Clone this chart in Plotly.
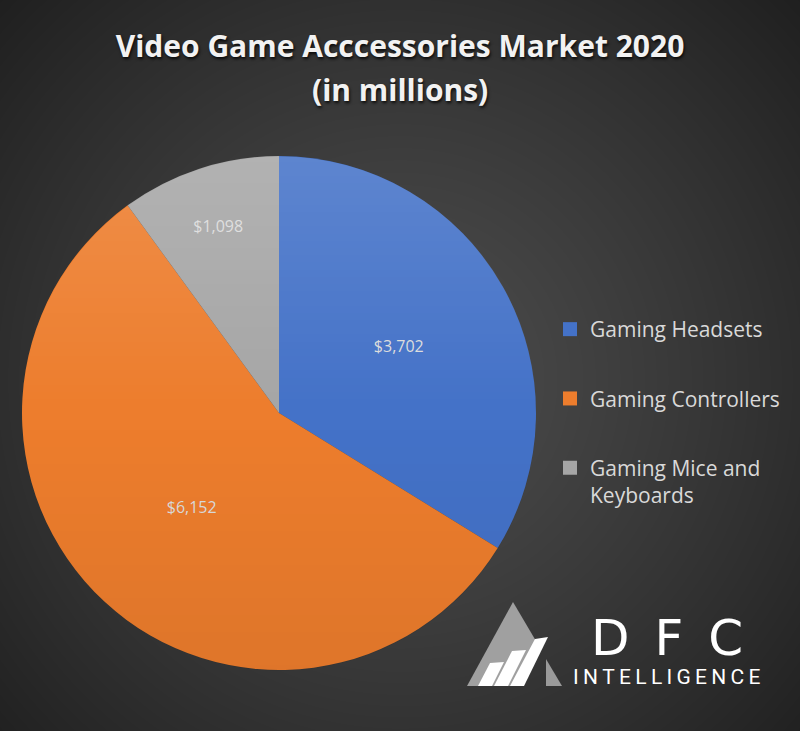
import base64
import struct
import zlib

import numpy as np
import plotly.graph_objects as go

# ---------------- data ----------------
categories = ["Gaming Headsets", "Gaming Controllers", "Gaming Mice and Keyboards"]
legend_labels = ["Gaming Headsets", "Gaming Controllers", "Gaming Mice and<br>Keyboards"]
values = [3702, 6152, 1098]
colors = ["#4472C8", "#ED7D2D", "#A6A6A6"]
title_line1 = "Video Game Acccessories Market 2020"
title_line2 = "(in millions)"
logo_big = "D\u2002F\u2002C"
logo_small = "\u2009".join("INTELLIGENCE")

W, H = 800, 731
CX, CY, R = 279, 413, 257


# ---------------- helper: PNG encoder ----------------
def make_png(arr):
    if arr.ndim == 2:
        h, w = arr.shape
        ctype = 0
    else:
        h, w, _ = arr.shape
        ctype = 6
    raw = b"".join(b"\x00" + arr[i].tobytes() for i in range(h))

    def chunk(tag, data):
        c = struct.pack(">I", len(data)) + tag + data
        return c + struct.pack(">I", zlib.crc32(tag + data) & 0xFFFFFFFF)

    png = b"\x89PNG\r\n\x1a\n"
    png += chunk(b"IHDR", struct.pack(">IIBBBBB", w, h, 8, ctype, 0, 0, 0))
    png += chunk(b"IDAT", zlib.compress(raw, 9))
    png += chunk(b"IEND", b"")
    return "data:image/png;base64," + base64.b64encode(png).decode()


yy, xx = np.mgrid[0:H, 0:W].astype(float)
# radial background
d = np.sqrt((xx - 400.0) ** 2 + (yy - 380.0) ** 2) / 560.0
d = np.clip(d, 0, 1)
bg = (0x4D - (0x4D - 0x1F) * d ** 1.2).astype(np.uint8)
bg_uri = make_png(bg)

# vertical shading overlay for the pie (lighter on top, darker at bottom)
t = np.clip((yy - (CY - R)) / (2 * R), 0, 1)
dist = np.sqrt((xx - CX) ** 2 + (yy - CY) ** 2)
inside = np.clip(R - dist + 0.5, 0, 1)
white_a = np.where(t < 0.5, 0.14 * (1 - 2 * t), 0.0)
black_a = np.where(t >= 0.5, 0.06 * (2 * t - 1), 0.0)
rgb = np.where(t < 0.5, 255, 0)
ov = np.zeros((H, W, 4), dtype=np.uint8)
ov[..., 0] = rgb
ov[..., 1] = rgb
ov[..., 2] = rgb
ov[..., 3] = (255 * (white_a + black_a) * inside).astype(np.uint8)
ov_uri = make_png(ov)


def px(x, y):
    return x / W, 1 - y / H


def path(points):
    s = ""
    for i, (x, y) in enumerate(points):
        a, b = px(x, y)
        s += ("M" if i == 0 else "L") + f"{a:.5f},{b:.5f} "
    return s + "Z"


fig = go.Figure()

x0, y0 = px(CX - R, CY + R)
x1, y1 = px(CX + R, CY - R)
fig.add_trace(go.Pie(
    labels=categories,
    values=values,
    sort=False,
    direction="clockwise",
    rotation=0,
    marker=dict(colors=colors, line=dict(width=0)),
    texttemplate="$%{value:,}",
    textposition="inside",
    insidetextorientation="horizontal",
    insidetextfont=dict(family="Open Sans", size=16, color="#DCDCDC"),
    domain=dict(x=[x0, x1], y=[y0, y1]),
    showlegend=False,
    hoverinfo="label+value",
))

# legend entries (one per category, separate groups so they can be spaced)
for i, (lab, col) in enumerate(zip(legend_labels, colors)):
    fig.add_trace(go.Scatter(
        x=[None], y=[None], mode="markers", name=lab,
        marker=dict(symbol="square", size=14, color=col),
        legendgroup=f"g{i}", showlegend=True,
    ))

shapes = [
    dict(type="path", xref="paper", yref="paper", layer="above",
         path=path([(513, 602), (536, 641), (522, 686), (467, 686)]),
         fillcolor="#A0A0A0", line=dict(width=0)),
    dict(type="path", xref="paper", yref="paper", layer="above",
         path=path([(546, 659), (562, 686), (546, 686)]),
         fillcolor="#9A9A9A", line=dict(width=0)),
    dict(type="path", xref="paper", yref="paper", layer="above",
         path=path([(478, 686), (492, 686), (504, 662), (490, 663)]),
         fillcolor="#FFFFFF", line=dict(width=0)),
    dict(type="path", xref="paper", yref="paper", layer="above",
         path=path([(494, 686), (508, 686), (526, 650), (512, 651)]),
         fillcolor="#FFFFFF", line=dict(width=0)),
    dict(type="path", xref="paper", yref="paper", layer="above",
         path=path([(510, 686), (524, 686), (548, 637), (535, 639)]),
         fillcolor="#FFFFFF", line=dict(width=0)),
]

ax, ay = px(400, 90)
lx, ly = px(667, 638)
sx, sy = px(667, 677)
title_font = dict(family="Open Sans", size=30, color="#F2F2F2", weight="bold",
                  shadow="1px 2px 3px rgba(0,0,0,0.8)")
annotations = [
    dict(text=title_line2, x=ax, y=ay, xref="paper", yref="paper",
         xanchor="center", yanchor="middle", showarrow=False, font=title_font),
    dict(text=logo_big, x=lx, y=ly, xref="paper", yref="paper",
         xanchor="center", yanchor="middle", showarrow=False,
         font=dict(family="DejaVu Sans", size=50, color="#FFFFFF")),
    dict(text=logo_small, x=sx, y=sy, xref="paper", yref="paper",
         xanchor="center", yanchor="middle", showarrow=False,
         font=dict(family="Roboto", size=21, color="#FFFFFF")),
]

tx, ty = px(400, 46)
lgx, lgy = px(550, 309)
fig.update_layout(
    width=W, height=H,
    margin=dict(l=0, r=0, t=0, b=0),
    paper_bgcolor="#333333",
    plot_bgcolor="rgba(0,0,0,0)",
    title=dict(text=title_line1, x=0.5, y=ty, xref="paper", yref="paper",
               xanchor="center", yanchor="middle", font=title_font),
    xaxis=dict(visible=False, domain=[0.99, 1]),
    yaxis=dict(visible=False, domain=[0.99, 1]),
    legend=dict(x=lgx, y=lgy, xanchor="left", yanchor="top",
                font=dict(family="Open Sans", size=21, color="#D9D9D9"),
                tracegroupgap=39, bgcolor="rgba(0,0,0,0)", valign="top",
                itemclick=False, itemdoubleclick=False),
    images=[
        dict(source=bg_uri, xref="paper", yref="paper", x=0, y=1,
             sizex=1, sizey=1, xanchor="left", yanchor="top",
             sizing="stretch", layer="below"),
        dict(source=ov_uri, xref="paper", yref="paper", x=0, y=1,
             sizex=1, sizey=1, xanchor="left", yanchor="top",
             sizing="stretch", layer="above"),
    ],
    shapes=shapes,
    annotations=annotations,
)

fig.write_html("out.html",
               config={"displayModeBar": False},
               post_script="document.body.style.margin='0px';"
                           "document.body.style.overflow='hidden';")
